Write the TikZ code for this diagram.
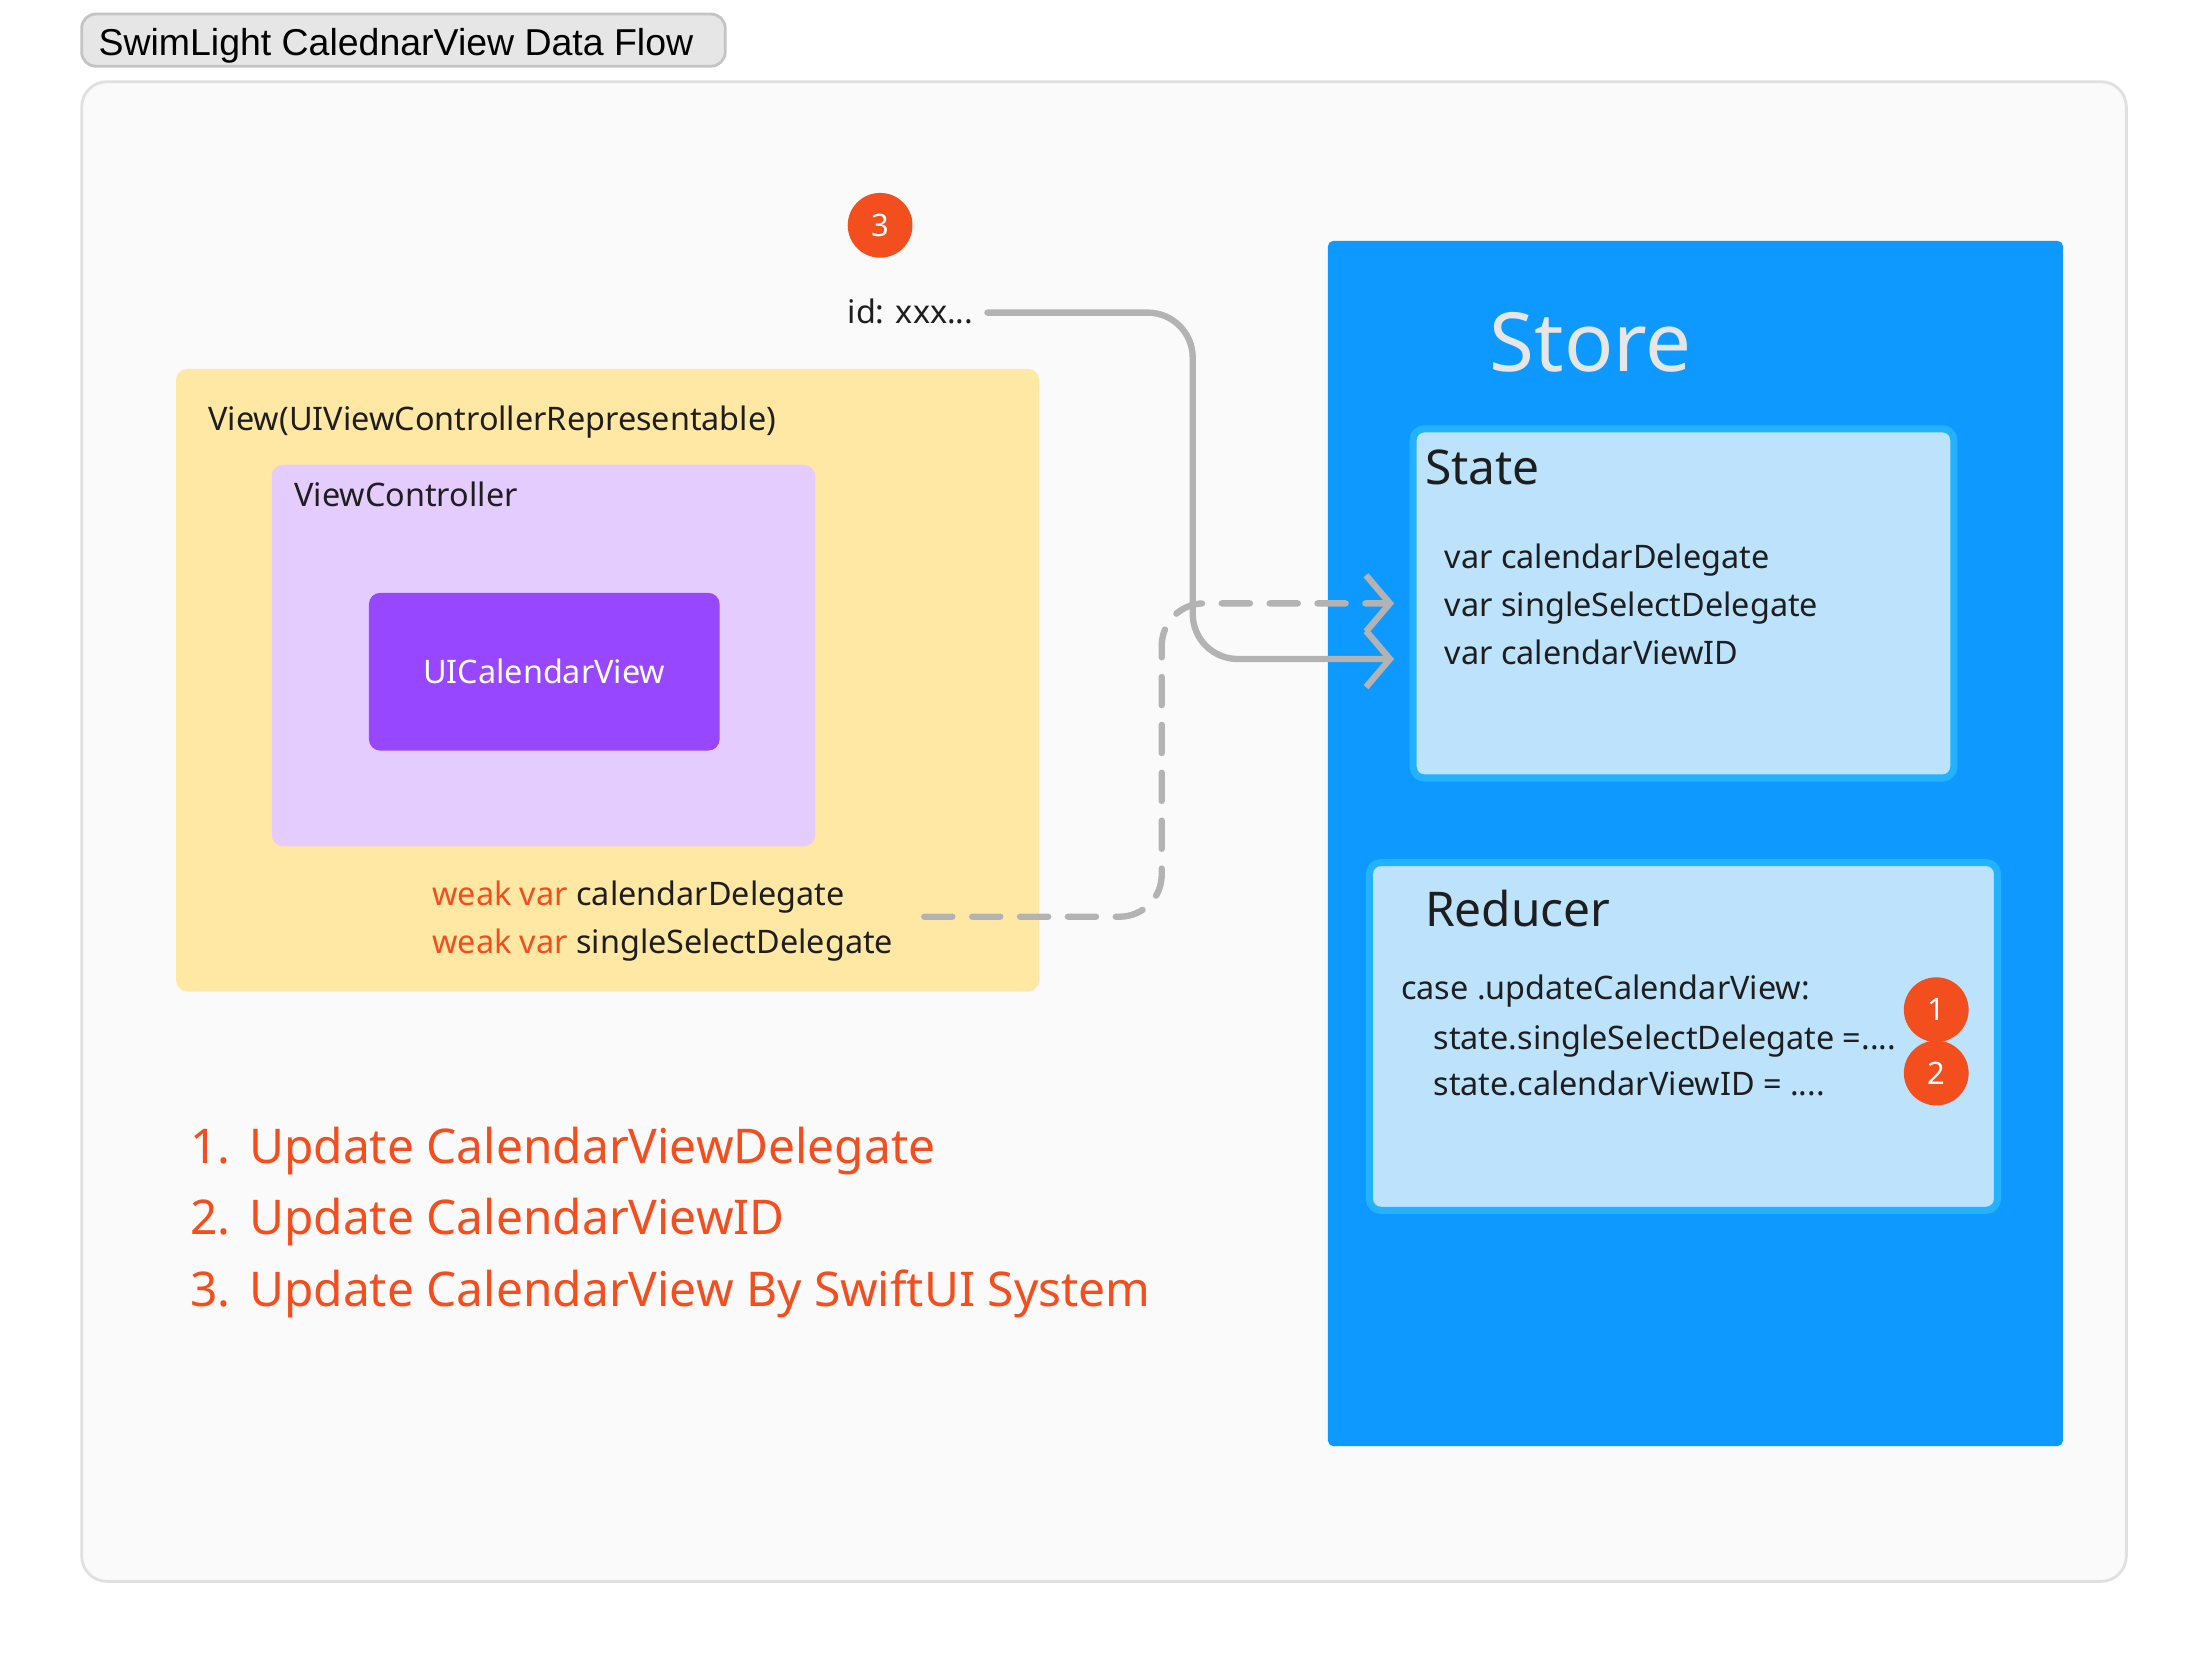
\documentclass[tikz,border=0pt]{standalone}
\usepackage{fontspec}
\setmainfont{Noto Sans}
\newfontfamily\titlefont{Liberation Sans}
\usetikzlibrary{arrows.meta}
\definecolor{ink}{HTML}{1E1E1E}
\definecolor{framefill}{HTML}{FAFAFA}
\definecolor{frameline}{HTML}{E0E0E0}
\definecolor{titlefill}{HTML}{E6E6E6}
\definecolor{titleline}{HTML}{C4C4C4}
\definecolor{storeblue}{HTML}{0D99FF}
\definecolor{storetxt}{HTML}{E6E6E6}
\definecolor{boxline}{HTML}{24B2FF}
\definecolor{boxfill}{HTML}{BDE3FC}
\definecolor{yellowbg}{HTML}{FFE8A3}
\definecolor{lavender}{HTML}{E4CCFF}
\definecolor{purplebg}{HTML}{9747FF}
\definecolor{redorange}{HTML}{F24E1E}
\definecolor{connector}{HTML}{B3B3B3}
\tikzset{
  boxbase/.style={rectangle, inner sep=0pt, outer sep=0pt, anchor=north west},
  txt/.style={inner sep=0pt, outer sep=0pt, text=ink, anchor=base west},
  badge/.style={circle, fill=redorange, text=white, inner sep=0pt, minimum size=23pt,
    font=\fontsize{11pt}{13pt}\selectfont},
  conn/.style={draw=connector, line width=2.25pt, line cap=round, line join=round,
    -{Straight Barb[length=8.5pt,width=20pt]}},
  dashconn/.style={conn, dash pattern=on 10pt off 7pt},
  body/.style={font=\fontsize{11.5pt}{13.5pt}\selectfont},
  listtxt/.style={txt, text=redorange, font=\fontsize{17pt}{20pt}\selectfont},
}
\begin{document}
\begin{tikzpicture}[x=0.5pt,y=-0.5pt]
\useasboundingbox (0,0) rectangle (1568,1182);
\fill[white] (0,0) rectangle (1568,1182);

% title tab
\node[boxbase, fill=titlefill, draw=titleline, line width=1pt, rounded corners=5pt,
  minimum width=228.5pt, minimum height=18.5pt] (titlebox) at (58,10) {};
\node[txt, font=\titlefont\fontsize{13.3pt}{15pt}\selectfont, text=black] (title) at (70,39.5)
  {SwimLight CalednarView Data Flow};

% outer frame
\node[boxbase, fill=framefill, draw=frameline, line width=1pt, rounded corners=9pt,
  minimum width=726pt, minimum height=532.5pt] (frame) at (58,58) {};

% view representable
\node[boxbase, fill=yellowbg, rounded corners=4pt,
  minimum width=306.5pt, minimum height=221pt] (viewbox) at (125,262) {};
\node[txt, body] (viewlbl) at (148,306) {View(UIViewControllerRepresentable)};
\node[boxbase, fill=lavender, rounded corners=4pt,
  minimum width=193pt, minimum height=135.5pt] (vcbox) at (193,330) {};
\node[txt, body] (vclbl) at (209,360) {ViewController};
\node[boxbase, fill=purplebg, rounded corners=4pt,
  minimum width=124.5pt, minimum height=56pt, anchor=center, text=white,
  font=\fontsize{11.5pt}{13.5pt}\selectfont] (calview) at (386.5,477) {UICalendarView};
\node[txt, body] (weak1) at (307,643) {\textcolor{redorange}{weak var} calendarDelegate};
\node[txt, body] (weak2) at (307,677) {\textcolor{redorange}{weak var} singleSelectDelegate};

% list
\node[listtxt] (l1) at (135,826) {\makebox[21pt][l]{1.}Update CalendarViewDelegate};
\node[listtxt] (l2) at (135,877) {\makebox[21pt][l]{2.}Update CalendarViewID};
\node[listtxt] (l3) at (135,928) {\makebox[21pt][l]{3.}Update CalendarView By SwiftUI System};

% id badge
\node[badge] (b3) at (625,160) {3};
\node[txt, body] (idtxt) at (602,230) {id: xxx...};

% store
\node[boxbase, fill=storeblue, rounded corners=2pt,
  minimum width=261pt, minimum height=428pt] (store) at (943,171) {};
\node[txt, text=storetxt, font=\fontsize{29pt}{33pt}\selectfont] (storelbl) at (1058,264) {Store};

\node[boxbase, fill=boxfill, draw=boxline, line width=2.5pt, rounded corners=4pt,
  minimum width=192pt, minimum height=124pt] (state) at (1003.5,304.5) {};
\node[txt, font=\fontsize{17pt}{20pt}\selectfont] (statelbl) at (1012,344) {State};
\node[txt, body] (sv1) at (1026,404) {var calendarDelegate};
\node[txt, body] (sv2) at (1026,438) {var singleSelectDelegate};
\node[txt, body] (sv3) at (1026,472) {var calendarViewID};

\node[boxbase, fill=boxfill, draw=boxline, line width=2.5pt, rounded corners=4pt,
  minimum width=223pt, minimum height=123.5pt] (reducer) at (972.5,612.5) {};
\node[txt, font=\fontsize{17pt}{20pt}\selectfont] (reducerlbl) at (1012,658) {Reducer};
\node[txt, body] (r1) at (995,710) {case .updateCalendarView:};
\node[txt, body] (r2) at (1018,745) {state.singleSelectDelegate =....};
\node[txt, body] (r3) at (1018,778) {state.calendarViewID = ....};
\node[badge] (b1) at (1375,717) {1};
\node[badge] (b2) at (1375,762) {2};

% connectors
\coordinate (bendS) at (847,468);
\coordinate (bendD) at (825,428.5);
\draw[conn, rounded corners=16pt, shorten >=6.75pt]
  ([shift={(5pt,4pt)}]idtxt.base east) -| (bendS) -- ([yshift=-19.75pt]state.west);
\draw[dashconn, rounded corners=15pt, shorten >=6.75pt]
  ([shift={(11pt,13pt)}]weak2.base east) -| (bendD) -- (state.west);
\end{tikzpicture}
\end{document}
